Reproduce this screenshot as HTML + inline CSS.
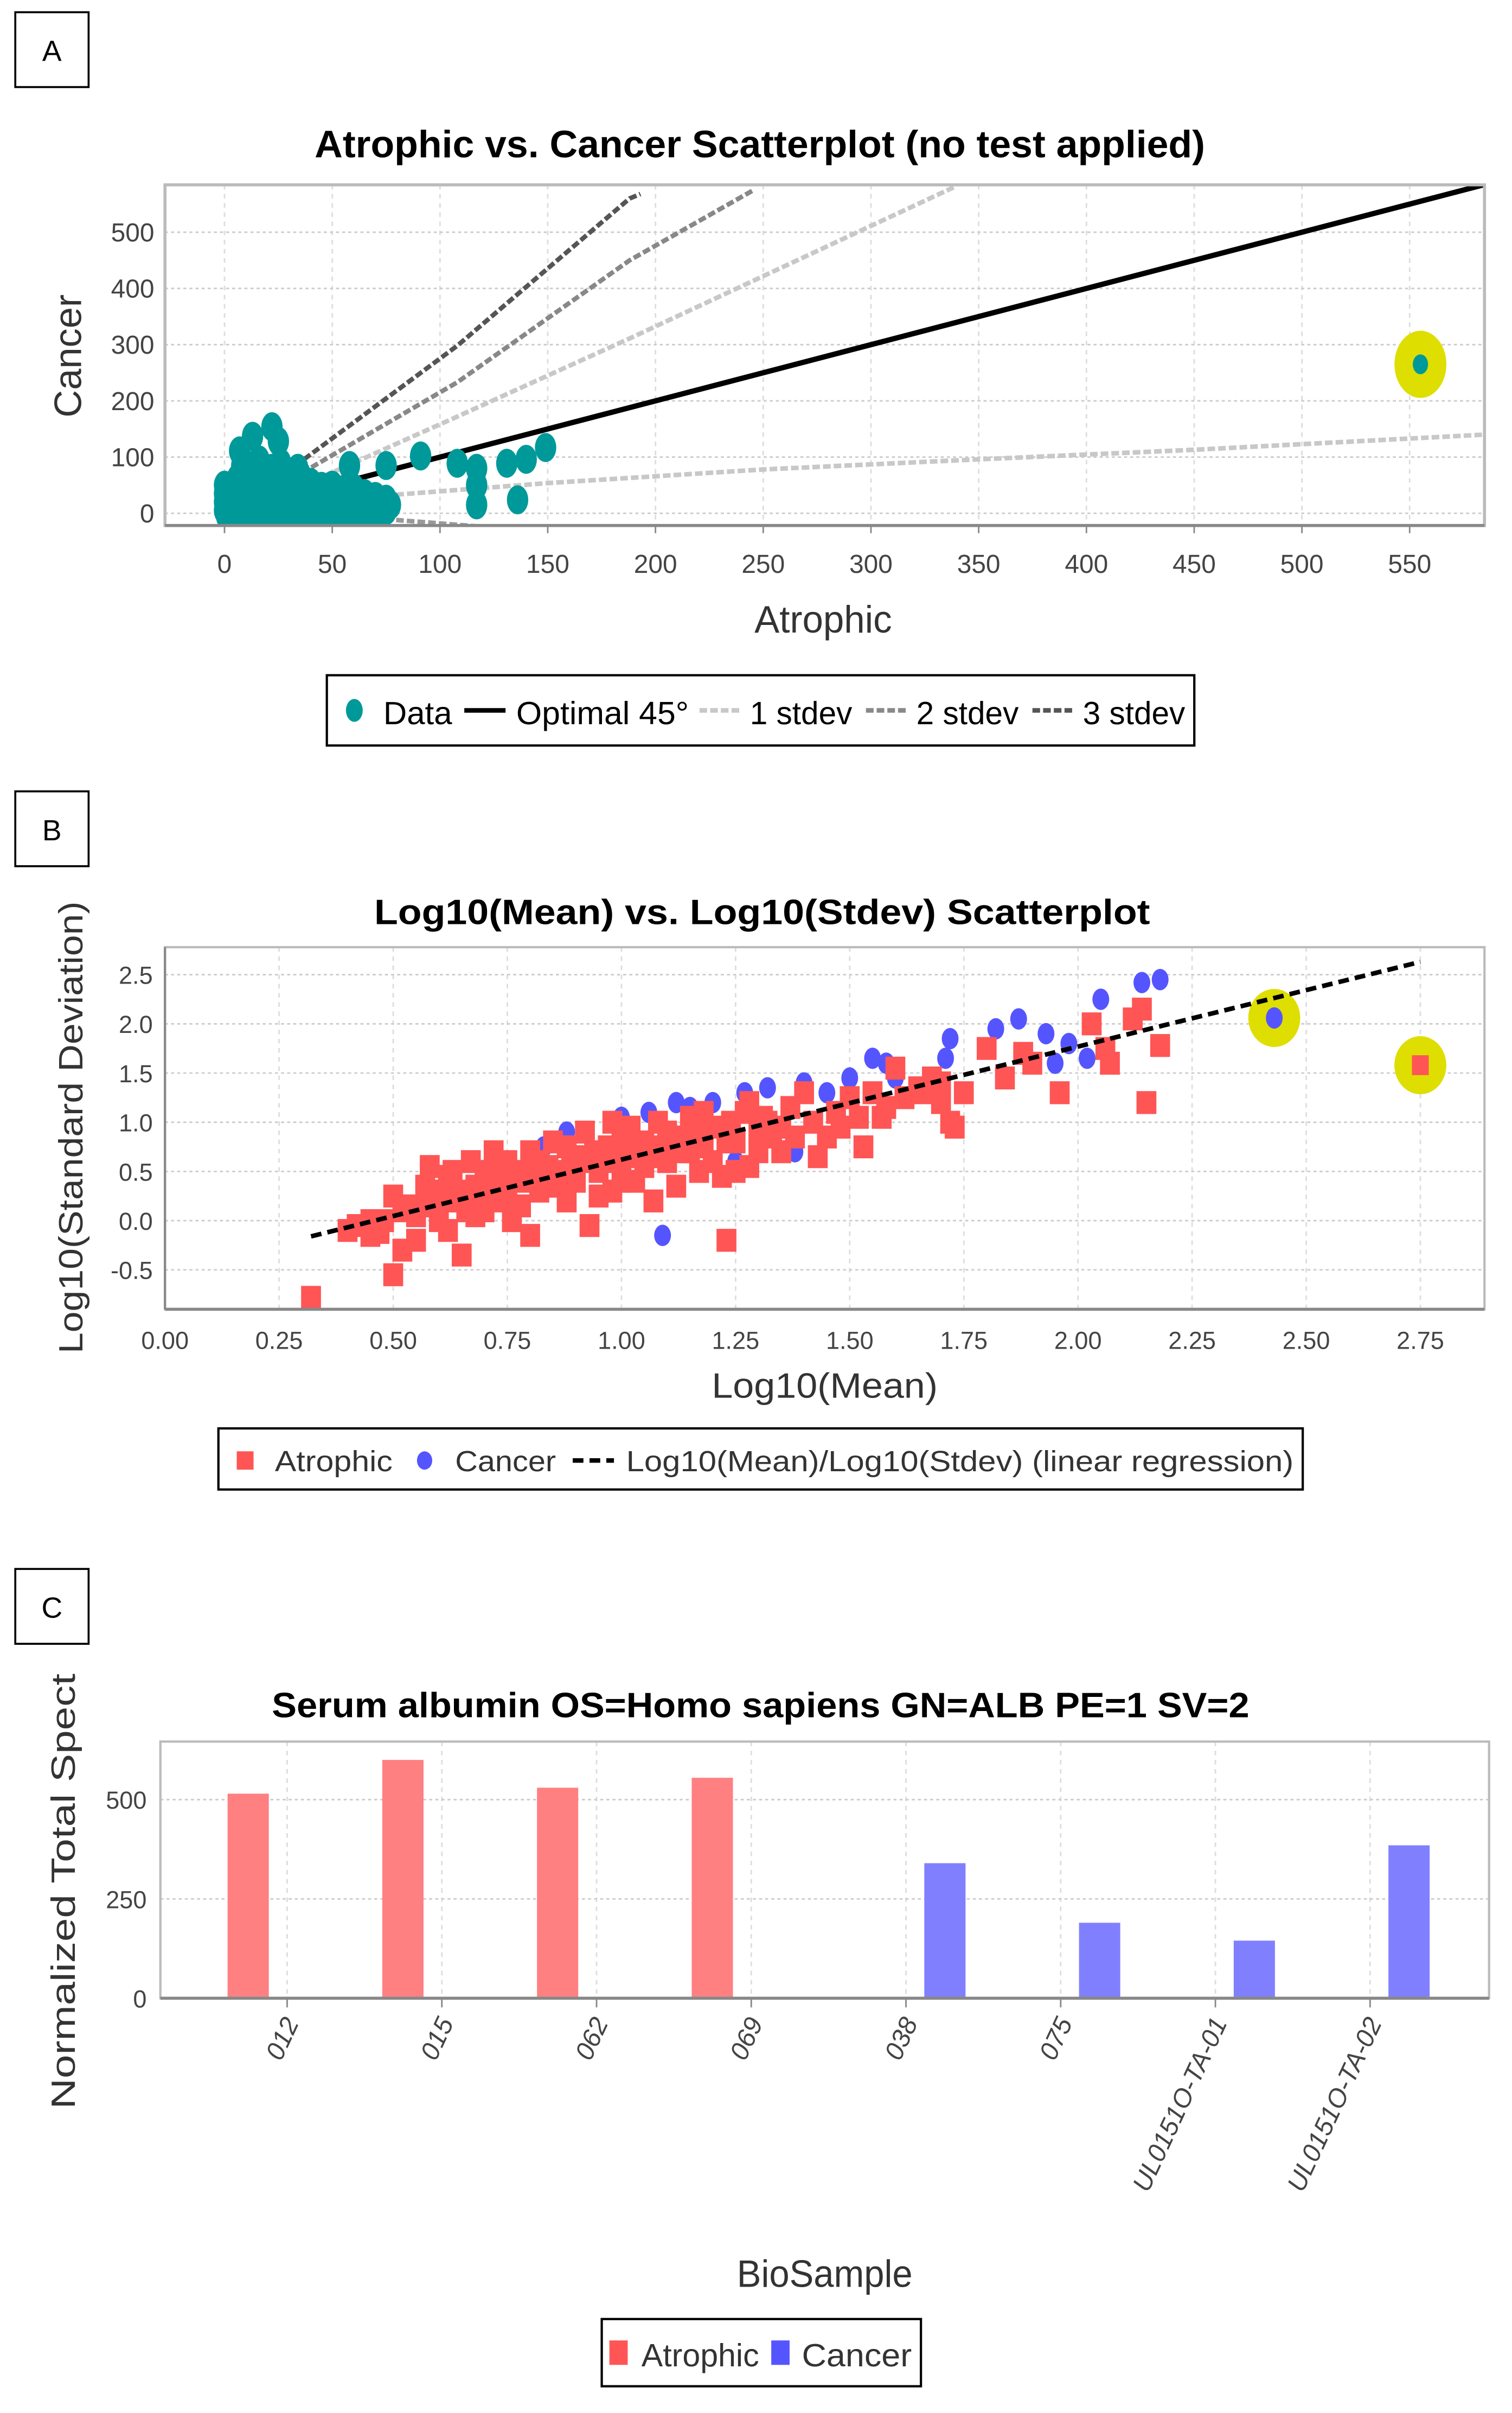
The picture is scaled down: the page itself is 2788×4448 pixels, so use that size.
<!DOCTYPE html>
<html><head><meta charset="utf-8">
<style>
html,body{margin:0;padding:0;background:#fff;}
svg{display:block;}
text{font-family:"Liberation Sans",sans-serif;}
</style></head>
<body>
<svg id="fig" width="2788" height="4448" viewBox="0 0 990 1579.5" xmlns="http://www.w3.org/2000/svg">
<rect x="0" y="0" width="990" height="1579.5" fill="#fff"/>
<g><rect x="10" y="8" width="48" height="49" fill="#fff" stroke="#000" stroke-width="1.3"/><text x="34" y="40" font-size="19" text-anchor="middle">A</text></g>
<g><rect x="10" y="518" width="48" height="49" fill="#fff" stroke="#000" stroke-width="1.3"/><text x="34" y="550" font-size="19" text-anchor="middle">B</text></g>
<g><rect x="10" y="1027" width="48" height="49" fill="#fff" stroke="#000" stroke-width="1.3"/><text x="34" y="1059" font-size="19" text-anchor="middle">C</text></g>

<text x="206" y="103" font-size="25" font-weight="bold" textLength="583" lengthAdjust="spacingAndGlyphs">Atrophic vs. Cancer Scatterplot (no test applied)</text>
<text x="245" y="605" font-size="23" font-weight="bold" textLength="508" lengthAdjust="spacingAndGlyphs">Log10(Mean) vs. Log10(Stdev) Scatterplot</text>
<text x="178" y="1124" font-size="23" font-weight="bold" textLength="640" lengthAdjust="spacingAndGlyphs">Serum albumin OS=Homo sapiens GN=ALB PE=1 SV=2</text>

<text x="539" y="414" font-size="25" text-anchor="middle" fill="#333" textLength="90" lengthAdjust="spacingAndGlyphs">Atrophic</text>
<text transform="translate(53,233) rotate(-90)" font-size="25" text-anchor="middle" fill="#333">Cancer</text>
<text x="540" y="915" font-size="23" text-anchor="middle" fill="#333" textLength="148" lengthAdjust="spacingAndGlyphs">Log10(Mean)</text>
<text transform="translate(54,738) rotate(-90)" font-size="22" text-anchor="middle" fill="#333" textLength="296" lengthAdjust="spacingAndGlyphs">Log10(Standard Deviation)</text>
<text x="540" y="1497" font-size="25" text-anchor="middle" fill="#333" textLength="115" lengthAdjust="spacingAndGlyphs">BioSample</text>
<text transform="translate(49,1238) rotate(-90)" font-size="22" text-anchor="middle" fill="#333" textLength="285" lengthAdjust="spacingAndGlyphs">Normalized Total Spect</text>

<g id="plotA"></g>
<g id="plotB"></g>
<g id="plotC"></g>

<g>
<rect x="214" y="442" width="568" height="46" fill="#fff" stroke="#000" stroke-width="1.5"/>
<g><ellipse cx="232" cy="465" rx="5.5" ry="7.5" fill="#009999"/><text x="251" y="474" font-size="21" textLength="45" lengthAdjust="spacingAndGlyphs">Data</text></g>
<g><line x1="304" y1="465" x2="331" y2="465" stroke="#000" stroke-width="3"/><text x="338" y="474" font-size="21" textLength="113" lengthAdjust="spacingAndGlyphs">Optimal 45°</text></g>
<g><line x1="458" y1="465" x2="485" y2="465" stroke="#c8c8c8" stroke-width="3" stroke-dasharray="5,2"/><text x="491" y="474" font-size="21" textLength="67" lengthAdjust="spacingAndGlyphs">1 stdev</text></g>
<g><line x1="567" y1="465" x2="594" y2="465" stroke="#888" stroke-width="3" stroke-dasharray="5,2"/><text x="600" y="474" font-size="21" textLength="67" lengthAdjust="spacingAndGlyphs">2 stdev</text></g>
<g><line x1="676" y1="465" x2="703" y2="465" stroke="#555" stroke-width="3" stroke-dasharray="5,2"/><text x="709" y="474" font-size="21" textLength="67" lengthAdjust="spacingAndGlyphs">3 stdev</text></g>
</g>
<g>
<rect x="143" y="935" width="710" height="40" fill="#fff" stroke="#000" stroke-width="1.5"/>
<g><rect x="155" y="950" width="11" height="12" fill="#ff5555"/><text x="180" y="963" font-size="19" fill="#333" textLength="77" lengthAdjust="spacingAndGlyphs">Atrophic</text></g>
<g><ellipse cx="278" cy="956" rx="5" ry="6" fill="#5555ff"/><text x="298" y="963" font-size="19" fill="#333" textLength="66" lengthAdjust="spacingAndGlyphs">Cancer</text></g>
<g><line x1="375" y1="956" x2="402" y2="956" stroke="#000" stroke-width="3" stroke-dasharray="7,4"/><text x="410" y="963" font-size="19" fill="#333" textLength="437" lengthAdjust="spacingAndGlyphs">Log10(Mean)/Log10(Stdev) (linear regression)</text></g>
</g>
<g>
<rect x="394" y="1518" width="209" height="44" fill="#fff" stroke="#000" stroke-width="1.5"/>
<g><rect x="399" y="1532" width="12" height="16" fill="#ff5555"/><text x="420" y="1549" font-size="21" fill="#333" textLength="77" lengthAdjust="spacingAndGlyphs">Atrophic</text></g>
<g><rect x="505" y="1532" width="12" height="16" fill="#5555ff"/><text x="525" y="1549" font-size="21" fill="#333" textLength="72" lengthAdjust="spacingAndGlyphs">Cancer</text></g>
</g>
</svg>
<script>
// ===== Panel A data =====
const aXTicks = [0,50,100,150,200,250,300,350,400,450,500,550];
const aYTicks = [0,100,200,300,400,500];
const aAtrophic = [0,0,0,0,2,3,4,5,5,6,7,8,8,9,10,10,11,12,12,13,14,15,15,16,17,18,18,19,20,20,21,22,22,23,24,25,25,26,27,28,28,29,30,30,31,32,33,34,35,35,36,37,38,40,40,42,43,45,46,47,48,50,50,52,53,55,55,57,58,60,60,62,63,65,66,68,70,72,75,75,77,1,3,6,9,12,14,17,19,21,24,27,29,33,37,41,44,48,51,56,61,64,67,71,73,8,16,26,34,7,13,22,25,58,66,75,91,108,117,117,117,131,136,140,149,555];
const aCancer   = [5,20,35,50,10,28,45,0,40,62,15,30,70,55,5,50,22,20,75,60,38,35,65,10,48,0,58,25,45,25,68,80,8,52,32,40,12,60,22,70,5,45,55,10,30,38,62,20,70,0,45,15,40,25,55,12,35,48,5,22,40,28,50,10,35,20,42,5,30,15,45,25,8,35,12,20,30,10,25,5,15,-5,-3,-2,0,-4,2,-3,5,-2,3,-4,4,-2,2,-3,3,-2,1,-1,2,-2,0,3,-1,85,95,90,80,111,137,154,128,85,6,85,102,89,80,15,50,89,24,96,117,265];
const optimalLine = {x:[0,585], y:[0,585]};
const sd1Up = {x:[42,108,188,339], y:[59,172,311,581]};
const sd2Up = {x:[36,108,188,246], y:[72,233,450,576]};
const sd3Up = {x:[33,108,188,193], y:[85,298,560,568]};
const sd1Low = {x:[60,79,151,250,350,450,585], y:[25,33,54,78,96,113,140]};
const sd2Low = {x:[40,80,120], y:[-5,-12,-24]};
// ===== Panel B data =====
const bXTicks = [0,0.25,0.5,0.75,1.0,1.25,1.5,1.75,2.0,2.25,2.5,2.75];
const bYTicks = [-0.5,0,0.5,1.0,1.5,2.0,2.5];
const bAtrMean = [0.32,0.42,0.45,0.47,0.5,0.5,0.52,0.55,0.57,0.58,0.6,0.62,0.63,0.65,0.65,0.67,0.68,0.7,0.72,0.73,0.75,0.76,0.78,0.8,0.8,0.82,0.84,0.85,0.87,0.88,0.9,0.92,0.93,0.95,0.97,0.98,1.0,1.02,1.03,1.05,1.07,1.08,1.1,1.12,1.13,1.15,1.17,1.18,1.2,1.22,1.23,1.25,1.27,1.28,1.3,1.32,1.35,1.37,1.4,1.43,1.45,1.47,1.5,1.53,1.55,1.57,1.6,1.62,1.65,1.68,1.7,1.72,1.73,1.75,1.8,1.84,1.88,1.9,1.96,2.03,2.06,2.07,2.12,2.14,2.15,2.18,0.45,0.55,0.6,0.68,0.7,0.75,0.78,0.82,0.86,0.9,0.95,0.96,1.0,1.05,1.1,1.15,1.2,1.25,1.3,1.35,1.38,1.42,0.57,0.62,0.66,0.72,0.88,0.98,1.08,1.18,1.28,0.4,0.48,0.53,0.58,0.64,0.69,0.74,0.79,0.83,0.93,1.03,1.13,1.23,1.33,1.48,1.52,1.58,1.66,1.7,0.6,0.66,0.71,0.77,0.83,0.89,0.94,1.0,1.06,1.12,1.17,1.24,1.31,0.52,0.7,0.86,1.01,1.16,0.62,0.74,0.9,2.75];
const bAtrStd  = [-0.78,-0.05,0.0,-0.12,-0.55,0.25,-0.3,0.05,0.15,0.55,0.3,-0.1,0.5,0.2,-0.35,0.6,0.35,0.1,0.45,0.25,0.6,0.0,0.4,0.7,-0.15,0.3,0.55,0.8,0.45,0.2,0.65,0.9,-0.05,0.5,0.75,0.3,0.6,0.95,0.4,0.8,0.2,1.0,0.6,0.35,0.85,1.05,0.5,0.75,0.95,0.45,-0.2,0.8,1.1,0.55,0.9,1.0,0.7,1.15,1.3,0.65,0.85,1.1,1.25,0.75,1.3,1.05,1.55,1.25,1.35,1.45,1.2,1.0,0.95,1.3,1.75,1.45,1.7,1.6,1.3,2.0,1.75,1.6,2.05,2.15,1.2,1.78,-0.15,-0.2,0.0,0.05,0.5,0.3,0.15,0.6,0.35,0.4,0.25,0.6,0.4,0.55,0.9,0.7,0.6,0.5,0.7,0.95,0.85,1.0,0.35,0.45,0.1,0.7,0.75,1.0,0.75,1.1,1.2,-0.1,0.0,0.15,0.25,0.2,0.3,0.2,0.5,0.45,0.6,0.65,0.7,0.8,0.85,0.95,1.05,1.15,1.3,1.4,0.1,0.3,0.25,0.45,0.4,0.55,0.7,0.8,0.65,0.75,0.95,1.0,1.05,0.1,0.3,0.5,0.85,0.9,0.4,0.5,0.55,1.58];
const bCanMean = [0.83,0.88,0.92,0.95,0.98,1.0,1.06,1.09,1.12,1.15,1.2,1.25,1.27,1.32,1.38,1.4,1.45,1.5,1.55,1.58,1.6,1.72,1.71,1.82,1.87,1.93,1.95,1.98,2.02,2.05,2.14,2.18,2.43];
const bCanStd  = [0.75,0.9,0.9,0.25,1.0,1.05,1.1,-0.15,1.2,1.15,1.2,0.6,1.3,1.35,0.7,1.4,1.3,1.45,1.65,1.6,1.45,1.85,1.65,1.95,2.05,1.9,1.6,1.8,1.65,2.25,2.42,2.45,2.06];
const regLine = {x:[0.32,2.75], y:[-0.16,2.63]};
// ===== Panel C data =====
const cCategories = ["012","015","062","069","038","075","UL0151O-TA-01","UL0151O-TA-02"];
const cAtrophic = [515,600,530,555,0,0,0,0];
const cCancer   = [0,0,0,0,340,190,145,385];
const cYTicks = [0,250,500];

const NS="http://www.w3.org/2000/svg";
function el(parent, tag){ const e=document.createElementNS(NS,tag); parent.appendChild(e); return e; }

// ---------- Panel A ----------
const A={l:108,r:972,t:121,b:344};
const ax = v => 147 + v*(923-147)/550;
const ay = v => 336 - v*(336-152)/500;
(function(){
  const g=document.getElementById('plotA');
  const bg=el(g,'rect'); bg.setAttribute('x',A.l);bg.setAttribute('y',A.t);bg.setAttribute('width',A.r-A.l);bg.setAttribute('height',A.b-A.t);bg.setAttribute('fill','#fff');
   
  aXTicks.forEach(v=>{
    const l=el(g,'line'); l.setAttribute('x1',ax(v));l.setAttribute('x2',ax(v));l.setAttribute('y1',A.t);l.setAttribute('y2',A.b);l.setAttribute('stroke','#ddd');l.setAttribute('stroke-dasharray','3,3');
     
    const tk=el(g,'line'); tk.setAttribute('x1',ax(v));tk.setAttribute('x2',ax(v));tk.setAttribute('y1',A.b);tk.setAttribute('y2',A.b+5);tk.setAttribute('stroke','#888');
    const t=el(g,'text'); t.setAttribute('x',ax(v));t.setAttribute('y',375);t.setAttribute('font-size','17');t.setAttribute('text-anchor','middle');t.setAttribute('fill','#444');t.textContent=v;
     
  });
  aYTicks.forEach(v=>{
    const l=el(g,'line'); l.setAttribute('x1',A.l);l.setAttribute('x2',A.r);l.setAttribute('y1',ay(v));l.setAttribute('y2',ay(v));l.setAttribute('stroke','#ccc');l.setAttribute('stroke-dasharray','2,2');
     
    const t=el(g,'text'); t.setAttribute('x',101);t.setAttribute('y',ay(v)+6);t.setAttribute('font-size','17');t.setAttribute('text-anchor','end');t.setAttribute('fill','#444');t.textContent=v;
     
  });
  const cp=el(g,'clipPath'); cp.setAttribute('id','clipA'); const cr=el(cp,'rect'); cr.setAttribute('x',A.l);cr.setAttribute('y',A.t);cr.setAttribute('width',A.r-A.l);cr.setAttribute('height',A.b-A.t);
  const lg=el(g,'g'); lg.setAttribute('clip-path','url(#clipA)');
  function poly(d,col,w,dash,name){
    const p=el(lg,'polyline'); p.setAttribute('points',d.x.map((x,i)=>ax(x)+','+ay(d.y[i])).join(' '));
    p.setAttribute('fill','none');p.setAttribute('stroke',col);p.setAttribute('stroke-width',w); if(dash)p.setAttribute('stroke-dasharray',dash);
     
  }
  poly(sd1Low,'#c8c8c8',3,'5,2','lower-1-stdev-line');
  poly(sd2Low,'#999',3,'5,2','lower-2-stdev-line');
  poly(sd1Up,'#c8c8c8',3,'5,2','upper-1-stdev-line');
  poly(sd2Up,'#888',3,'5,2','upper-2-stdev-line');
  poly(sd3Up,'#555',3,'5,2','upper-3-stdev-line');
  poly(optimalLine,'#000',3.5,null,'optimal-45-line');
  const hl=el(lg,'ellipse'); hl.setAttribute('cx',ax(555));hl.setAttribute('cy',ay(265));hl.setAttribute('rx',17);hl.setAttribute('ry',22);hl.setAttribute('fill','#dede00');
   
  aAtrophic.forEach((v,i)=>{
    const c=el(lg,'ellipse'); c.setAttribute('cx',ax(v));c.setAttribute('cy',ay(aCancer[i]));c.setAttribute('rx',7);c.setAttribute('ry',9.5);c.setAttribute('fill','#009999');
    if(i===aAtrophic.length-1){c.setAttribute('rx',5);c.setAttribute('ry',6.5);}
     
  });
  const fr=el(g,'rect'); fr.setAttribute('x',A.l);fr.setAttribute('y',A.t);fr.setAttribute('width',A.r-A.l);fr.setAttribute('height',A.b-A.t);fr.setAttribute('fill','none');fr.setAttribute('stroke','#bbb');fr.setAttribute('stroke-width','2');
  const xa=el(g,'line'); xa.setAttribute('x1',A.l);xa.setAttribute('x2',A.r);xa.setAttribute('y1',A.b);xa.setAttribute('y2',A.b);xa.setAttribute('stroke','#888');xa.setAttribute('stroke-width','2');
   
})();

// ---------- Panel B ----------
const B={l:108,r:972,t:620,b:857};
const bx = v => 108 + v*(930-108)/2.75;
const by = v => 799 - v*(799-638)/2.5;
(function(){
  const g=document.getElementById('plotB');
  bXTicks.forEach(v=>{
    const l=el(g,'line'); l.setAttribute('x1',bx(v));l.setAttribute('x2',bx(v));l.setAttribute('y1',B.t);l.setAttribute('y2',B.b);l.setAttribute('stroke','#ddd');l.setAttribute('stroke-dasharray','3,3');
     
    const t=el(g,'text'); t.setAttribute('x',bx(v));t.setAttribute('y',883);t.setAttribute('font-size','16');t.setAttribute('text-anchor','middle');t.setAttribute('fill','#444');t.textContent=v.toFixed(2);
     
  });
  bYTicks.forEach(v=>{
    const l=el(g,'line'); l.setAttribute('x1',B.l);l.setAttribute('x2',B.r);l.setAttribute('y1',by(v));l.setAttribute('y2',by(v));l.setAttribute('stroke','#ccc');l.setAttribute('stroke-dasharray','2,2');
     
    const t=el(g,'text'); t.setAttribute('x',100);t.setAttribute('y',by(v)+6);t.setAttribute('font-size','16');t.setAttribute('text-anchor','end');t.setAttribute('fill','#444');t.textContent=v.toFixed(1);
     
  });
  const h1=el(g,'ellipse'); h1.setAttribute('cx',bx(2.43));h1.setAttribute('cy',by(2.06));h1.setAttribute('rx',17);h1.setAttribute('ry',19);h1.setAttribute('fill','#dede00');
   
  const h2=el(g,'ellipse'); h2.setAttribute('cx',bx(2.75));h2.setAttribute('cy',by(1.58));h2.setAttribute('rx',17);h2.setAttribute('ry',19);h2.setAttribute('fill','#dede00');
   
  bCanMean.forEach((v,i)=>{
    const c=el(g,'ellipse'); c.setAttribute('cx',bx(v));c.setAttribute('cy',by(bCanStd[i]));c.setAttribute('rx',5.5);c.setAttribute('ry',7);c.setAttribute('fill','#5555ff');
     
  });
  bAtrMean.forEach((v,i)=>{
    const last=(i===bAtrMean.length-1);
    const w=last?11:13, h=last?13:15;
    const r=el(g,'rect'); r.setAttribute('x',bx(v)-w/2);r.setAttribute('y',by(bAtrStd[i])-h/2);r.setAttribute('width',w);r.setAttribute('height',h);r.setAttribute('fill','#ff5555');
     
  });
  const rl=el(g,'line'); rl.setAttribute('x1',bx(regLine.x[0]));rl.setAttribute('y1',by(regLine.y[0]));rl.setAttribute('x2',bx(regLine.x[1]));rl.setAttribute('y2',by(regLine.y[1]));
  rl.setAttribute('stroke','#000');rl.setAttribute('stroke-width','3');rl.setAttribute('stroke-dasharray','7,4');
   
  const fr=el(g,'rect'); fr.setAttribute('x',B.l);fr.setAttribute('y',B.t);fr.setAttribute('width',B.r-B.l);fr.setAttribute('height',B.b-B.t);fr.setAttribute('fill','none');fr.setAttribute('stroke','#bbb');fr.setAttribute('stroke-width','1.5');
  const xa=el(g,'line'); xa.setAttribute('x1',B.l);xa.setAttribute('x2',B.r);xa.setAttribute('y1',B.b);xa.setAttribute('y2',B.b);xa.setAttribute('stroke','#888');xa.setAttribute('stroke-width','2');
   
  const ya=el(g,'line'); ya.setAttribute('x1',B.l);ya.setAttribute('x2',B.l);ya.setAttribute('y1',B.t);ya.setAttribute('y2',B.b);ya.setAttribute('stroke','#888');ya.setAttribute('stroke-width','1.5');
})();

// ---------- Panel C ----------
const C={l:105,r:975,t:1140,b:1308};
const cx = i => 188 + i*101.3;
const cy = v => 1308 - v*(1308-1178)/500;
(function(){
  const g=document.getElementById('plotC');
  cCategories.forEach((name,i)=>{
    const l=el(g,'line'); l.setAttribute('x1',cx(i));l.setAttribute('x2',cx(i));l.setAttribute('y1',C.t);l.setAttribute('y2',C.b);l.setAttribute('stroke','#ddd');l.setAttribute('stroke-dasharray','3,3');
     
    const tk=el(g,'line'); tk.setAttribute('x1',cx(i));tk.setAttribute('x2',cx(i));tk.setAttribute('y1',C.b);tk.setAttribute('y2',C.b+6);tk.setAttribute('stroke','#888');
    const t=el(g,'text'); t.setAttribute('transform','translate('+(cx(i)+8)+',1324) rotate(-65)');t.setAttribute('font-size','17');t.setAttribute('font-style','italic');t.setAttribute('text-anchor','end');t.setAttribute('fill','#444');t.textContent=name;
     
  });
  cYTicks.forEach(v=>{
    const l=el(g,'line'); l.setAttribute('x1',C.l);l.setAttribute('x2',C.r);l.setAttribute('y1',cy(v));l.setAttribute('y2',cy(v));l.setAttribute('stroke','#ccc');l.setAttribute('stroke-dasharray','2,2');
     
    const t=el(g,'text'); t.setAttribute('x',96);t.setAttribute('y',cy(v)+6);t.setAttribute('font-size','16');t.setAttribute('text-anchor','end');t.setAttribute('fill','#444');t.textContent=v;
     
  });
  cAtrophic.forEach((v,i)=>{
    if(v<=0) return;
    const r=el(g,'rect'); r.setAttribute('x',cx(i)-39);r.setAttribute('y',cy(v));r.setAttribute('width',27);r.setAttribute('height',cy(0)-cy(v));r.setAttribute('fill','#ff8080');
     
  });
  cCancer.forEach((v,i)=>{
    if(v<=0) return;
    const r=el(g,'rect'); r.setAttribute('x',cx(i)+12);r.setAttribute('y',cy(v));r.setAttribute('width',27);r.setAttribute('height',cy(0)-cy(v));r.setAttribute('fill','#8080ff');
     
  });
  const fr=el(g,'rect'); fr.setAttribute('x',C.l);fr.setAttribute('y',C.t);fr.setAttribute('width',C.r-C.l);fr.setAttribute('height',C.b-C.t);fr.setAttribute('fill','none');fr.setAttribute('stroke','#bbb');fr.setAttribute('stroke-width','1.5');
  const xa=el(g,'line'); xa.setAttribute('x1',C.l);xa.setAttribute('x2',C.r);xa.setAttribute('y1',C.b);xa.setAttribute('y2',C.b);xa.setAttribute('stroke','#888');xa.setAttribute('stroke-width','2');
   
})();
</script>
</body></html>
